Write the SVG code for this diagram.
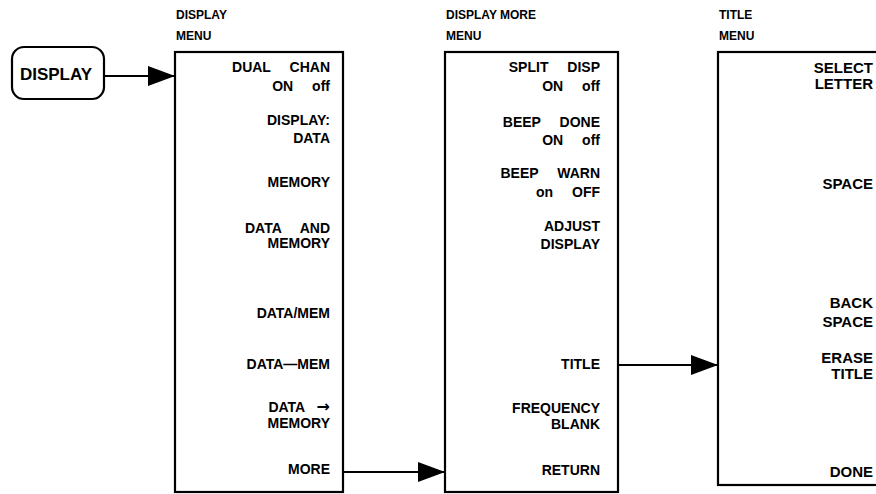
<svg xmlns="http://www.w3.org/2000/svg" width="876" height="494" viewBox="0 0 876 494">
<style>
.box{fill:#fff;stroke:#000;stroke-width:2.2}
.hdr{font-family:"Liberation Sans",Arial,sans-serif;font-weight:bold;font-size:12px;fill:#000}
.it{font-family:"Liberation Sans",Arial,sans-serif;font-weight:bold;font-size:14px;fill:#000;text-anchor:end;word-spacing:15px}
.it3{font-size:15px}
.arr{font-family:"DejaVu Sans",sans-serif;font-weight:bold;font-size:16px}
.key{font-family:"Liberation Sans",Arial,sans-serif;font-weight:bold;font-size:17px;fill:#000;text-anchor:middle}
.ln{stroke:#000;stroke-width:2.2;fill:none}
</style>
<defs>
<marker id="ah" viewBox="0 0 27 20" refX="27" refY="10" markerWidth="27" markerHeight="20" markerUnits="userSpaceOnUse" orient="auto">
<path d="M0,0 L27,10 L0,20 Z" fill="#000"/>
</marker>
</defs>
<rect width="876" height="494" fill="#fff"/>
<g id="display-key">
<rect class="box" x="12" y="47" width="92" height="52" rx="12"/>
<text class="key" x="56" y="80">DISPLAY</text>
</g>
<g id="display-menu">
<text class="hdr" x="176" y="19">DISPLAY</text>
<text class="hdr" x="176" y="40">MENU</text>
<rect class="box" x="175" y="52" width="168" height="440"/>
<text class="it" x="330" y="72">DUAL CHAN</text>
<text class="it" x="330" y="91">ON off</text>
<text class="it" x="330" y="125">DISPLAY:</text>
<text class="it" x="330" y="143">DATA</text>
<text class="it" x="330" y="187">MEMORY</text>
<text class="it" x="330" y="233">DATA AND</text>
<text class="it" x="330" y="248">MEMORY</text>
<text class="it" x="330" y="318">DATA/MEM</text>
<text class="it" x="330" y="369">DATA—MEM</text>
<text class="it" x="330" y="412" style="word-spacing:8px">DATA <tspan class="arr">→</tspan></text>
<text class="it" x="330" y="428">MEMORY</text>
<text class="it" x="330" y="474">MORE</text>
</g>
<g id="display-more-menu">
<text class="hdr" x="446" y="19">DISPLAY MORE</text>
<text class="hdr" x="446" y="40">MENU</text>
<rect class="box" x="445" y="52" width="173" height="440"/>
<text class="it" x="600" y="72">SPLIT DISP</text>
<text class="it" x="600" y="91">ON off</text>
<text class="it" x="600" y="127">BEEP DONE</text>
<text class="it" x="600" y="145">ON off</text>
<text class="it" x="600" y="178">BEEP WARN</text>
<text class="it" x="600" y="197">on OFF</text>
<text class="it" x="600" y="231">ADJUST</text>
<text class="it" x="600" y="249">DISPLAY</text>
<text class="it" x="600" y="369">TITLE</text>
<text class="it" x="600" y="413">FREQUENCY</text>
<text class="it" x="600" y="429">BLANK</text>
<text class="it" x="600" y="475">RETURN</text>
</g>
<g id="title-menu">
<text class="hdr" x="719" y="19">TITLE</text>
<text class="hdr" x="719" y="40">MENU</text>
<rect class="box" x="718" y="52" width="170" height="433"/>
<text class="it it3" x="873" y="73">SELECT</text>
<text class="it it3" x="873" y="89">LETTER</text>
<text class="it it3" x="873" y="189">SPACE</text>
<text class="it it3" x="873" y="308">BACK</text>
<text class="it it3" x="873" y="327">SPACE</text>
<text class="it it3" x="873" y="363">ERASE</text>
<text class="it it3" x="873" y="379">TITLE</text>
<text class="it it3" x="873" y="477">DONE</text>
</g>
<g id="connectors">
<line class="ln" x1="104" y1="76" x2="175" y2="76" marker-end="url(#ah)"/>
<line class="ln" x1="343" y1="472" x2="445" y2="472" marker-end="url(#ah)"/>
<line class="ln" x1="618" y1="365" x2="718" y2="365" marker-end="url(#ah)"/>
</g>
</svg>
